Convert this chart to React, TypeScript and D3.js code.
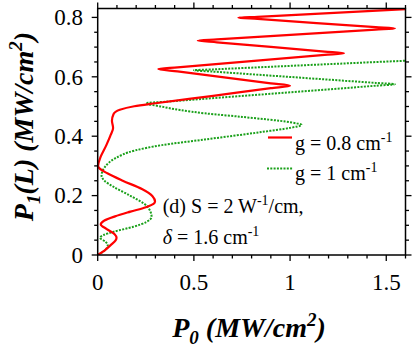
import * as d3 from "d3";
import React from "react";

// red solid curve, g = 0.8 cm-1  (P0 vs P1(L))
const redP0 = [0, 0.035, 0.07, 0.092, 0.098, 0.088, 0.045, 0.016, 0.035, 0.09, 0.17, 0.25, 0.29, 0.298, 0.285, 0.23, 0.13, 0.05, 0.012, 0.002, 0.015, 0.045, 0.068, 0.08, 0.074, 0.082, 0.115, 0.19, 0.3, 0.6, 0.9, 1.0, 0.9, 0.415, 0.315, 0.415, 1.18, 1.28, 1.18, 0.62, 0.52, 0.62, 1.445, 1.545, 1.445, 0.831, 0.731, 0.831, 1.7];
const redP1 = [0, 0.015, 0.035, 0.048, 0.058, 0.07, 0.088, 0.103, 0.116, 0.13, 0.146, 0.161, 0.172, 0.18, 0.198, 0.222, 0.25, 0.275, 0.29, 0.3, 0.33, 0.37, 0.405, 0.428, 0.452, 0.474, 0.489, 0.501, 0.511, 0.536, 0.562, 0.57, 0.578, 0.618, 0.626, 0.632, 0.674, 0.679, 0.685, 0.716, 0.722, 0.726, 0.759, 0.763, 0.767, 0.795, 0.799, 0.802, 0.831];

// green dotted curve, g = 1 cm-1
const greenP0 = [0, 0.03, 0.048, 0.052, 0.04, 0.012, 0.03, 0.081, 0.185, 0.255, 0.28, 0.255, 0.168, 0.081, 0.032, 0.02, 0.038, 0.09, 0.194, 0.333, 0.558, 0.85, 1.0, 1.06, 1.0, 0.75, 0.558, 0.428, 0.33, 0.25, 0.35, 1.445, 1.545, 1.445, 0.6, 0.5, 0.6, 1.7];
const greenP1 = [0, 0.012, 0.025, 0.033, 0.045, 0.058, 0.067, 0.078, 0.095, 0.112, 0.129, 0.165, 0.2, 0.23, 0.252, 0.267, 0.297, 0.325, 0.352, 0.37, 0.389, 0.414, 0.428, 0.438, 0.447, 0.465, 0.477, 0.488, 0.5, 0.511, 0.516, 0.57, 0.575, 0.5795, 0.6175, 0.622, 0.625, 0.657];

const xMajor = [0, 0.5, 1, 1.5];
const xMajorLabels = ["0", "0.5", "1", "1.5"];
const yMajor = [0, 0.2, 0.4, 0.6, 0.8];
const yMajorLabels = ["0", "0.2", "0.4", "0.6", "0.8"];

const serif = "'Liberation Serif', 'Times New Roman', serif";

export default function App() {
  const left = 97.7, right = 405.5, top = 8.5, bottom = 255;

  const x = d3.scaleLinear().domain([0, 1.6]).range([left, right]);
  const y = d3.scaleLinear().domain([0, 0.83]).range([bottom, top]);

  const xMinor = d3.range(0, 1.6001, 0.1);
  const yMinor = d3.range(0, 0.8301, 0.05);

  const line = d3.line<[number, number]>()
    .x(d => x(d[0]))
    .y(d => y(d[1]))
    .curve(d3.curveMonotoneY);

  const redPts = redP0.map((v, i) => [v, redP1[i]] as [number, number]);
  const greenPts = greenP0.map((v, i) => [v, greenP1[i]] as [number, number]);

  const isMajorX = (v: number) => xMajor.some(m => Math.abs(m - v) < 1e-6);
  const isMajorY = (v: number) => yMajor.some(m => Math.abs(m - v) < 1e-6);

  return (
    <svg width={415} height={352} style={{ position: "absolute", left: 0, top: 0, background: "#fff" }} fontFamily={serif}>
      <defs>
        <clipPath id="plot">
          <rect x={left} y={top} width={right - left} height={bottom - top} />
        </clipPath>
      </defs>

      <g clipPath="url(#plot)" fill="none">
        <path d={line(greenPts) || ""} stroke="#1aa01a" strokeWidth={2} strokeDasharray="2,1.3" />
        <path d={line(redPts) || ""} stroke="#ff0000" strokeWidth={2.2} />
      </g>

      {/* frame */}
      <rect x={left} y={top} width={right - left} height={bottom - top} fill="none" stroke="#000" strokeWidth={1.5} />

      {/* ticks on all four sides, pointing out */}
      {xMinor.map((v, i) => {
        const len = isMajorX(v) ? 6 : 3.5;
        return (
          <g key={"xt" + i} stroke="#000" strokeWidth={1.3}>
            <line x1={x(v)} x2={x(v)} y1={bottom} y2={bottom + len} />
            <line x1={x(v)} x2={x(v)} y1={top} y2={top - len} />
          </g>
        );
      })}
      {yMinor.map((v, i) => {
        const len = isMajorY(v) ? 6 : 3.5;
        return (
          <g key={"yt" + i} stroke="#000" strokeWidth={1.3}>
            <line x1={left} x2={left - len} y1={y(v)} y2={y(v)} />
            <line x1={right} x2={right + len} y1={y(v)} y2={y(v)} />
          </g>
        );
      })}

      {xMajor.map((v, i) => (
        <text key={"xl" + i} x={x(v)} y={290} fontSize={23} textAnchor="middle">{xMajorLabels[i]}</text>
      ))}
      {yMajor.map((v, i) => (
        <text key={"yl" + i} x={83} y={y(v) + 7.7} fontSize={23} textAnchor="end">{yMajorLabels[i]}</text>
      ))}

      {/* axis titles */}
      <text x={249} y={337} fontSize={28} fontWeight="bold" fontStyle="italic" textAnchor="middle">
        P<tspan fontSize={19} dy={7}>0</tspan><tspan dy={-7}> (MW/cm</tspan><tspan fontSize={19} dy={-11}>2</tspan><tspan dy={11}>)</tspan>
      </text>
      <text transform="translate(33,126.5) rotate(-90)" fontSize={28} fontWeight="bold" fontStyle="italic" textAnchor="middle">
        P<tspan fontSize={19} dy={7}>1</tspan><tspan dy={-7}>(L) (MW/cm</tspan><tspan fontSize={19} dy={-11}>2</tspan><tspan dy={11}>)</tspan>
      </text>

      {/* legend */}
      <line x1={268} x2={292} y1={137.5} y2={137.5} stroke="#ff0000" strokeWidth={2.2} />
      <text x={295} y={149.5} fontSize={20}>g = 0.8 cm<tspan fontSize={14} dy={-8}>-1</tspan></text>
      <line x1={267} x2={293} y1={168.5} y2={168.5} stroke="#1aa01a" strokeWidth={2} strokeDasharray="2,1.3" />
      <text x={295} y={179.5} fontSize={20}>g = 1 cm<tspan fontSize={14} dy={-8}>-1</tspan></text>

      {/* annotation */}
      <text x={162.7} y={213.3} fontSize={20}>
        (d) S = 2 W<tspan fontSize={14} dy={-8}>-1</tspan><tspan dy={8}>/cm,</tspan>
      </text>
      <text x={162.7} y={244} fontSize={20}>
        <tspan fontStyle="italic">δ</tspan> = 1.6 cm<tspan fontSize={14} dy={-8}>-1</tspan>
      </text>
    </svg>
  );
}
